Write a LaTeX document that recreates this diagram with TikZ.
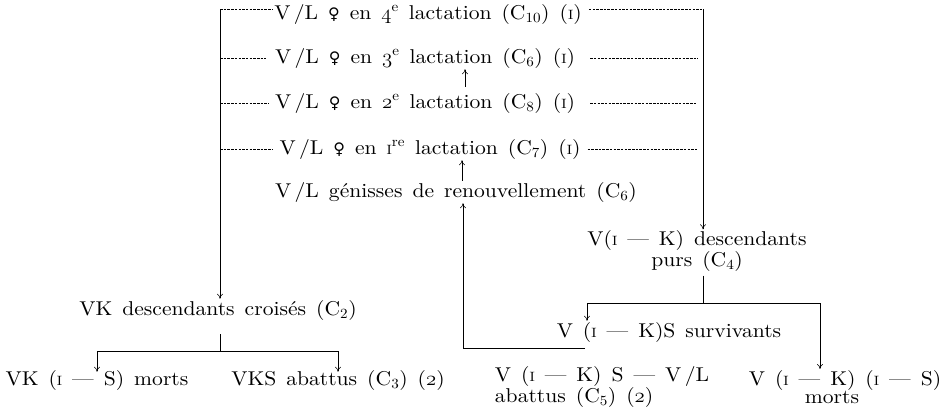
\documentclass[tikz,border=0pt]{standalone}
\usepackage{fontspec}
\setmainfont{lmroman10-regular.otf}[FakeStretch=1.08]
\newfontfamily\symf{DejaVu Serif}
\usetikzlibrary{arrows.meta}
\newcommand\os[1]{{\usefont{OML}{cmm}{m}{it}#1}}
\newcommand\one{{\fontsize{13.5}{14}\selectfont I}}
\newcommand\fem{{\symf\fontsize{16}{18}\selectfont ♀}}
\newcommand\sups[1]{\textsuperscript{#1}}
\newcommand\subs[1]{\textsubscript{#1}}
\newcommand\emd{\textemdash}
\newcommand\lblfont{\fontsize{20}{18.5}\selectfont\spaceskip=0.5em\relax}
\tikzset{
  lbl/.style={font=\lblfont, inner sep=1pt},
  conn/.style={line width=0.6pt},
  dsh/.style={line width=0.5pt, dash pattern=on 2.5pt off 1.2pt},
  arr/.style={conn,-{To[length=5pt,width=6pt]}}
}
\begin{document}
\begin{tikzpicture}[x=1pt,y=-1pt]
\useasboundingbox (0,0) rectangle (947,416);
% nodes
\node[lbl] (l4) at (428,14) {V\,/L \fem\ en \os{4}\sups{e} lactation (C\subs{10}) (\one)};
\node[lbl] (l3) at (425,58) {V\,/L \fem\ en \os{3}\sups{e} lactation (C\subs{6}) (\one)};
\node[lbl] (l2) at (425,103) {V\,/L \fem\ en \os{2}\sups{e} lactation (C\subs{8}) (\one)};
\node[lbl] (l1) at (430,149) {V\,/L \fem\ en \one\sups{re} lactation (C\subs{7}) (\one)};
\node[lbl] (l0) at (456,192) {V\,/L génisses de renouvellement (C\subs{6})};
\node[lbl,align=center] (pur) at (697,251) {V(\one\ \emd\ K) descendants\\purs (C\subs4)};
\node[lbl] (surv) at (669,332) {V (\one\ \emd\ K)S survivants};
\node[lbl,align=left] (ab5) at (602,387) {V (\one\ \emd\ K) S \emd\ V\,/L\\abattus (C\subs5) (\os2)};
\node[lbl,align=center] (mr) at (845,387) {V (\one\ \emd\ K) (\one\ \emd\ S)\\morts\hspace*{26pt}};
\node[lbl] (cr) at (218,310) {VK descendants croisés (C\subs2)};
\node[lbl] (vkm) at (97,380) {VK (\one\ \emd\ S) morts};
\node[lbl] (vks) at (338,380) {VKS abattus (C\subs3) (\os2)};
% coordinates
\coordinate (tl) at (220,9);
\coordinate (tr) at (703,9);
\coordinate (ax) at (465,0);
\coordinate (bx) at (462,0);
\coordinate (sv) at (585,348);
\coordinate (gx) at (463,348);
\coordinate (pb) at (703,303);
\coordinate (bl) at (587,303);
\coordinate (br) at (820,303);
\coordinate (cb) at (220,351);
\coordinate (ll) at (97,351);
\coordinate (lr) at (338,351);
% bracket lines
\draw[dsh] (tl) -- (l4.west |- tl);
\draw[dsh] ([xshift=6pt]l4.east |- tr) -- (tr);
\draw[arr] (tl) -- (tl |- cr.north);
\draw[arr] (tr) -- (tr |- pur.north);
\draw[dsh] (tl |- l3) -- ([xshift=-8pt]l3.west);
\draw[dsh] ([xshift=14pt]l3.east) -- ([xshift=-5pt]tr |- l3);
\draw[dsh] (tl |- l2) -- ([xshift=-5pt]l2.west);
\draw[dsh] ([xshift=14pt]l2.east) -- ([xshift=-6pt]tr |- l2);
\draw[dsh] (tl |- l1) -- ([xshift=-5pt]l1.west);
\draw[dsh] ([xshift=6pt]l1.east) -- ([xshift=-6pt]tr |- l1);
% upward arrows
\draw[arr, shorten <=5pt] (l2.north -| ax) -- (l3.south -| ax);
\draw[arr] (l0.north -| bx) -- (l1.south -| bx);
\draw[arr] (sv) -- (gx) -- (gx |- l0.south);
% right branch
\draw[conn, shorten <=3pt] (pur.south -| pb) -- (pb);
\draw[conn] (bl) -- (br);
\draw[arr] (bl) -- (bl |- surv.north);
\draw[arr] (br) -- (br |- mr.north);
% left branch
\draw[conn, shorten <=13pt] (cr.south -| cb) -- (cb);
\draw[conn] (ll) -- (lr);
\draw[arr] (ll) -- ([yshift=-3pt]ll |- vkm.north);
\draw[arr] (lr) -- ([yshift=-3pt]lr |- vks.north);
\end{tikzpicture}
\end{document}
